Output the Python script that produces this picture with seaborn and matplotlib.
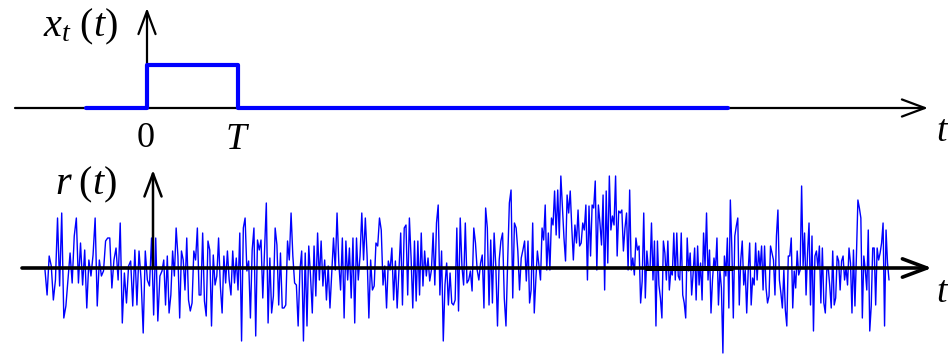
import numpy as np
import pandas as pd
import matplotlib
matplotlib.use("Agg")
import matplotlib.pyplot as plt
import seaborn as sns

# ---------------- data ----------------
# transmitted pulse x_t(t): time in units of T, amplitude 1
pulse_t = [-0.67, 0.0, 0.0, 1.0, 1.0, 6.38]
pulse_x = [0, 0, 1, 1, 0, 0]

# received signal r(t) (amplitude units, up positive), in 7 consecutive stretches
r_seg1 = [-2, -27, 12, 2, -32, -12, 50, -18, 55, -50, -38, -12, 15, -15, 32, 50, -15, 25, -17, 18,
          -40, 8, -8, 13, 50, -38, 8, -8, -3, 27, 30, 30, -20, 8, 20, -12, 45, -55, -5, -35,
          2, 7, -38, 18, -37, 17, -12, -65, 17, -12, -18, 30, -47, 30, -53, -8]
r_seg2 = [-3, 8, -37, 12, -45, -27, 17, -8, 40, 12, -50, 17, 8, -22, 30, -32, -43, -35, 17, 8,
          40, -27, -27, 35, -33, -48, 27, 18, -58, 13, -17, -8, 30, -18, -45, 12, -15, 17, -12, -27,
          17, -15, 10, -22, 35, -73, 40, 50, -3, 7, -50, 18, 40, -68, 28, 18, 28, -30, 18, 65,
          -55, 10, -45, -28, 40, 23, -37, 15, -40]
r_seg3 = [-40, -37, 27, 8, 55, 12, -15, -17, -58, -2, 17, -73, 15, -58, 22, -8, -45, 22, -28, 35,
          -12, 27, -18, 8, -32, 2, -40, -5, 30, -2, 55, 5, -22, 30, -50, 27, -12, 20, -30, 30,
          -55, 30, -12, 12, 55, 8, 50, 12, -50, 8, -22, -18, 25, 22, 50, 38, -17, 2, -40, 7,
          -2, 20, -32, 7, -40, -3, 35, -37, 40]
r_seg4 = [43, -27, 50, 10, -40, 27, -33, 27, -27, 35, -18, 17, -8, 10, -13, -2, 35, -17, 45, 63,
          -27, 17, -73, -17, 5, -37, -5, -35, -37, -32, 40, -43, 50, 2, -17, 45, -15, -12, -3, -23,
          40, 25, -2, -12, 5, 13, -40, 60, 40, -37, 28, -35, 35, 2, -58, 8, 27, 35, -30, -58,
          7, 65, 78, -30, 45, 40, 17, -22, 10, 18, 27, -13]
r_seg5 = [27, -35, -22, 45, -45, -12, 17, 2, -12, 40, 28, 63, -2, 35, -2, 50, 43, 77, 33, 78,
          30, 92, 62, 30, 7, 73, 55, 77, 40, 8, 43, 25, 58, 22, 25, 45, 38, 63, -12, 62,
          12, 63, 60, 87, -2, 63, 45, 23, 73, -22, 77, 5, 92, 38, 52, 43, 92, 12, 57, 55,
          58, 17, 40, 55, -2, 78, -2, 10, -7, 30, 18, 22, -35, -13, 55, -30, 17, -2]
r_seg6 = [-2, 45, -12, 27, -58, 27, -17, -30, -50, 27, 15, -12, 27, -22, -3, -7, 35, -12, 35, -8,
          -12, 35, -27, -35, -50, 30, -3, 15, -27, -5, 20, -32, 22, -17, 5, -32, 35, 2, 55, -12,
          18, -45, -12, 10, -2, 30, -37, -2, -20, -85, 12, -8, 30, -40, 68, 20, -50, 32, 42, 50,
          -37, 8, 27, -17, -2, -45, -3, 25, -37, -10, -17, 25, -12, 17, 0, 22, -22, 22, -20, -35,
          -28, 22]
r_seg7 = [15, 8, -27, 32, 58, -12, -25, -40, -2, -42, -58, 12, 12, 30, -40, -3, -20, 17, -7, -2,
          82, 2, 35, -27, 15, 45, -37, 32, -63, 12, 17, 0, 22, -35, 20, -35, -45, -2, 0, -18,
          -40, 17, -37, -30, 12, 7, -22, 7, 12, -12, 0, -17, 20, 5, -45, 18, -38, 12, 68, 60,
          50, -50, 12, -2, -22, 38, -63, -38, 20, 20, -37, 20, 8, 15, 25, 45, -58, 38, 5, -12]
r_segments = [r_seg1, r_seg2, r_seg3, r_seg4, r_seg5, r_seg6, r_seg7]

# ---------------- layout (figure pixels) ----------------
W, H = 948, 354
PX_PER_T = 91.0
top_origin = (147, 108)
bot_origin = (153, 268)
PULSE_PX = 43.0
seg_edges_px = [45, 162, 284, 406, 528, 650, 772, 889]

sns.set_style("white")
plt.rcParams["mathtext.fontset"] = "custom"
plt.rcParams["mathtext.rm"] = "Liberation Serif"
plt.rcParams["mathtext.it"] = "Liberation Serif:italic"
plt.rcParams["font.family"] = ["Liberation Serif", "DejaVu Serif"]

fig = plt.figure(figsize=(W / 100, H / 100), dpi=100)

def make_axes(origin, yscale):
    ax = fig.add_axes([0, 0, 1, 1])
    ox, oy = origin
    ax.set_xlim(-ox / PX_PER_T, (W - ox) / PX_PER_T)
    ax.set_ylim((oy - H) / yscale, oy / yscale)
    ax.set_axis_off()
    ax.patch.set_alpha(0)
    return ax

def tx(px, origin):
    return (px - origin[0]) / PX_PER_T

# ---------- top panel: transmitted pulse ----------
ax1 = make_axes(top_origin, PULSE_PX)
arrow_kw = dict(arrowstyle="->,head_length=0.75,head_width=0.28", color="black",
                lw=1.6, mutation_scale=22, shrinkA=0, shrinkB=0)
ax1.annotate("", xy=(tx(928, top_origin), 0), xytext=(tx(15, top_origin), 0),
             arrowprops=arrow_kw, zorder=1)
ax1.annotate("", xy=(0, (108 - 8) / PULSE_PX), xytext=(0, 0),
             arrowprops=arrow_kw, zorder=1)
df_pulse = pd.DataFrame({"t": pulse_t, "x": pulse_x})
sns.lineplot(data=df_pulse, x="t", y="x", ax=ax1, sort=False, estimator=None,
             color="#0000FF", lw=3.0, zorder=3)
ax1.set_axis_off()

# ---------- bottom panel: received signal ----------
ax2 = make_axes(bot_origin, 1.0)
t_parts = []
for i, seg in enumerate(r_segments):
    a = tx(seg_edges_px[i], bot_origin)
    b = tx(seg_edges_px[i + 1], bot_origin)
    t_parts.append(np.linspace(a, b, len(seg), endpoint=(i == len(r_segments) - 1)))
df_r = pd.DataFrame({"t": np.concatenate(t_parts),
                     "r": np.concatenate([np.asarray(s, float) for s in r_segments])})
sns.lineplot(data=df_r, x="t", y="r", ax=ax2, sort=False, estimator=None,
             color="#0000FF", lw=1.0, zorder=2)
arrow_kw2 = dict(arrowstyle="->,head_length=0.8,head_width=0.3", color="black",
                 lw=2.6, mutation_scale=22, shrinkA=0, shrinkB=0)
ax2.annotate("", xy=(tx(932, bot_origin), 0), xytext=(tx(22, bot_origin), 0),
             arrowprops=arrow_kw2, zorder=4)
ax2.annotate("", xy=(0, 268 - 170), xytext=(0, 0),
             arrowprops=dict(arrowstyle="->,head_length=0.75,head_width=0.28", color="black",
                             lw=1.8, mutation_scale=22, shrinkA=0, shrinkB=0), zorder=4)
ax2.plot([tx(645, bot_origin), tx(733, bot_origin)], [0, 0], color="black", lw=3.6,
         solid_capstyle="butt", zorder=5)
ax2.set_axis_off()

# ---------- labels ----------
def ftext(px, py, s, **kw):
    fig.text(px / W, 1 - py / H, s, color="black", **kw)

ftext(43, 36, r"$x_t\,\,(t)$", fontsize=29, ha="left", va="baseline")
ftext(146, 147, "0", fontsize=26, ha="center", va="baseline")
ftext(238, 149, r"$T$", fontsize=27, ha="center", va="baseline")
ftext(936, 141, r"$t$", fontsize=27, ha="left", va="baseline")
ftext(55, 194, r"$r\;(t)$", fontsize=29, ha="left", va="baseline")
ftext(936, 302, r"$t$", fontsize=27, ha="left", va="baseline")

fig.savefig("out.png", dpi=100)
